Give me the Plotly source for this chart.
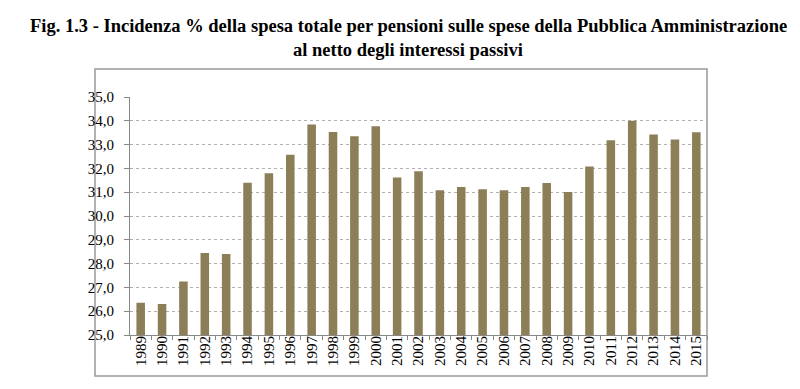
import plotly.graph_objects as go

years = [str(y) for y in range(1989, 2016)]
values = [26.35, 26.3, 27.25, 28.45, 28.4, 31.4, 31.8, 32.57, 33.84, 33.53, 33.35, 33.77,
          31.62, 31.88, 31.08, 31.22, 31.12, 31.08, 31.22, 31.39, 31.01, 32.08, 33.18,
          34.0, 33.42, 33.21, 33.52]
y_ticks = [25, 26, 27, 28, 29, 30, 31, 32, 33, 34, 35]
title_lines = ["Fig. 1.3 - Incidenza % della spesa totale per pensioni sulle spese della Pubblica Amministrazione",
               "al netto degli interessi passivi"]

W, H = 800, 389
L, R, T, B = 122, 800 - 699, 89, 389 - 327
pw, ph = W - L - R, H - T - B

fig = go.Figure(go.Bar(x=years, y=values, marker=dict(color="#8c7f57", line=dict(width=0)),
                       width=0.4))

serif = "Liberation Serif"
fig.update_layout(
    width=W, height=H,
    margin=dict(l=L, r=R, t=T, b=B),
    paper_bgcolor="white", plot_bgcolor="white",
    separators=",.",
    showlegend=False,
    font=dict(family=serif, color="#000", size=13),
    xaxis=dict(type="category", tickangle=-90, ticks="outside", tickson="boundaries",
               ticklen=4, tickcolor="#888", showline=True, linecolor="#888", linewidth=1,
               ticklabelstandoff=-6,
               showgrid=False, tickfont=dict(family=serif, size=15, color="#000")),
    yaxis=dict(range=[25, 35], tickvals=y_ticks, tickformat=".1f", ticks="outside",
               ticklen=5, tickcolor="#888", showline=True, linecolor="#888", linewidth=1,
               ticklabelstandoff=7,
               showgrid=True, gridcolor="#b0b0b0", griddash="dot", gridwidth=1,
               zeroline=False, tickfont=dict(family=serif, size=15, color="#000")),
)

for i, (line, ypix) in enumerate(zip(title_lines, [18, 42])):
    fig.add_annotation(text="<b>" + line + "</b>", xref="paper", yref="paper",
                       x=(400 - L) / pw, y=(H - B - ypix) / ph, xanchor="center", yanchor="middle",
                       showarrow=False, font=dict(family=serif, size=18.5, color="#000"))

fig.add_shape(type="rect", xref="paper", yref="paper",
              x0=(87 - L) / pw, x1=(699 - L) / pw,
              y0=(H - B - 368) / ph, y1=(H - B - 61) / ph,
              line=dict(color="#999", width=1.5), fillcolor="rgba(0,0,0,0)", layer="below")

fig.write_html("out.html")
